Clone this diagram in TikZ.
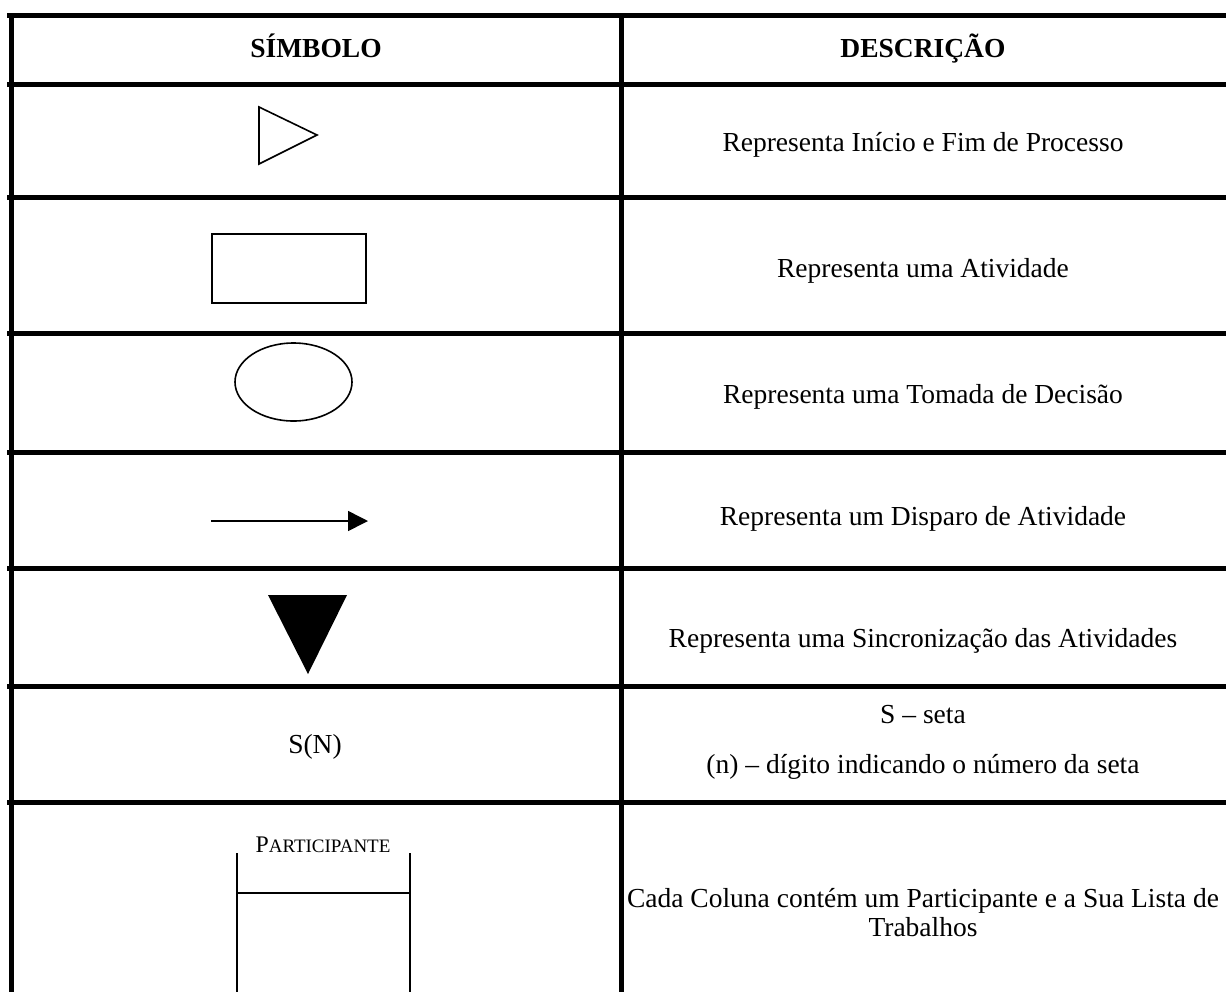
\documentclass[tikz,border=0pt]{standalone}
\usepackage{fontspec}
\setmainfont{Liberation Serif}
\usetikzlibrary{arrows.meta,shapes.geometric}

\tikzset{
  grade/.style={line width=2.5pt},
  traco/.style={line width=0.8pt},
  titulo/.style={anchor=base,font=\fontsize{13.75}{15.5}\selectfont\bfseries},
  texto/.style={anchor=base,font=\fontsize{13.75}{14.5}\selectfont, align=center},
}

\begin{document}
\begin{tikzpicture}[x=0.5pt,y=-0.5pt]
\useasboundingbox (0,0) rectangle (1226,992);
\foreach \y in {15,84,197,333,452,568,686,802}
  \draw[grade] (7,\y) -- (1226,\y);
\draw[grade] (11,15) -- (11,992);
\draw[grade] (621,15) -- (621,992);
\node[titulo] (simbolo) at (316,57) {SÍMBOLO};
\node[titulo] (descricao) at (923,57) {DESCRIÇÃO};
\draw[traco] (259,107) -- (317,135) -- (259,164) -- cycle;
\node[texto] (inicio) at (923,151) {Representa Início e Fim de Processo};
\node[draw,traco,minimum width=77pt,minimum height=34.5pt,inner sep=0pt] (atividade) at (289,268.5) {};
\node[texto] (desc_atividade) at (923,277) {Representa uma Atividade};
\node[draw,traco,ellipse,minimum width=58.5pt,minimum height=39pt,inner sep=0pt] (decisao) at (293.5,382) {};
\node[texto] (desc_decisao) at (923,403) {Representa uma Tomada de Decisão};
\coordinate (disparo_a) at (211,521);
\coordinate (disparo_b) at (368,521);
\draw[traco,-{Triangle[length=10pt,width=10pt]}] (disparo_a) -- (disparo_b);
\node[texto] (desc_disparo) at (923,525) {Representa um Disparo de Atividade};
\fill (268,595) -- (347,595) -- (308,674) -- cycle;
\node[texto] (desc_sincronizacao) at (923,647) {Representa uma Sincronização das Atividades};
\node[texto] (seta) at (315,753) {S(N)};
\node[texto] (seta_s) at (923,723) {S – seta};
\node[texto] (seta_n) at (923,773) {(n) – dígito indicando o número da seta};
\node[anchor=base,font=\fontsize{11.9}{13}\selectfont] (participante) at (323,852) {P{\fontsize{9.5}{11}\selectfont ARTICIPANTE}};
\coordinate (col_a) at (237,853);
\coordinate (col_b) at (410,853);
\coordinate (col_c) at (237,893);
\coordinate (col_d) at (410,893);
\coordinate (col_e) at (237,992);
\coordinate (col_f) at (410,992);
\draw[line width=1pt] (col_a) -- (col_e);
\draw[line width=1pt] (col_b) -- (col_f);
\draw[line width=1pt] (col_c) -- (col_d);
\node[texto] (desc_coluna) at (923,936) {Cada Coluna contém um Participante e a Sua Lista de\\Trabalhos};
\end{tikzpicture}
\end{document}
